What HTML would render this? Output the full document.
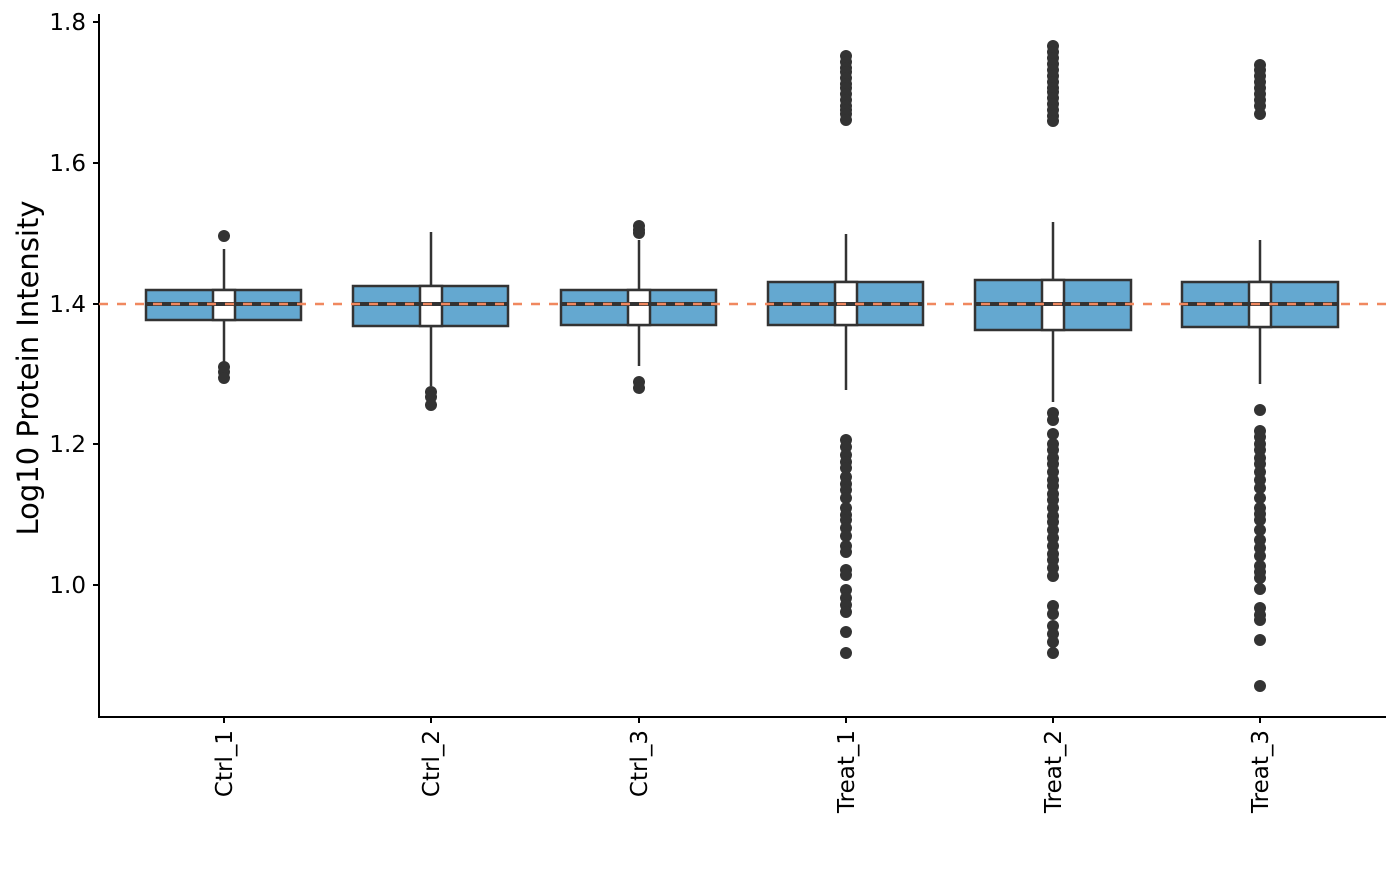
<!DOCTYPE html>
<html><head><meta charset="utf-8"><style>body{margin:0;background:#fff}</style></head><body>
<svg width="1400" height="865" xmlns="http://www.w3.org/2000/svg" font-family="DejaVu Sans, sans-serif">
<rect width="1400" height="865" fill="#fff"/>
<g stroke="#000" stroke-width="2">
<line x1="99" y1="14" x2="99" y2="718"/><line x1="98" y1="717" x2="1386" y2="717"/>
<line x1="93" y1="22" x2="99" y2="22"/><line x1="93" y1="163" x2="99" y2="163"/><line x1="93" y1="304" x2="99" y2="304"/><line x1="93" y1="444" x2="99" y2="444"/><line x1="93" y1="585" x2="99" y2="585"/>
<line x1="224" y1="717" x2="224" y2="723"/><line x1="431" y1="717" x2="431" y2="723"/><line x1="639" y1="717" x2="639" y2="723"/><line x1="846" y1="717" x2="846" y2="723"/><line x1="1053" y1="717" x2="1053" y2="723"/><line x1="1260" y1="717" x2="1260" y2="723"/>
</g>
<g font-size="23" text-anchor="end" fill="#000">
<text x="86" y="30">1.8</text><text x="86" y="171">1.6</text><text x="86" y="312">1.4</text><text x="86" y="452">1.2</text><text x="86" y="593">1.0</text>
</g>
<text transform="translate(38,368) rotate(-90)" font-size="29" text-anchor="middle">Log10 Protein Intensity</text>
<g font-size="23" text-anchor="end">
<text transform="translate(232,730) rotate(-90)">Ctrl_1</text>
<text transform="translate(439,730) rotate(-90)">Ctrl_2</text>
<text transform="translate(647,730) rotate(-90)">Ctrl_3</text>
<text transform="translate(854,730) rotate(-90)">Treat_1</text>
<text transform="translate(1061,730) rotate(-90)">Treat_2</text>
<text transform="translate(1268,730) rotate(-90)">Treat_3</text>
</g>
<g stroke="#333" stroke-width="2.5" fill="#333">
<line x1="224" y1="249" x2="224" y2="363"/>
<rect x="146" y="290" width="155" height="30" fill="#64a8d0"/>
<rect x="213" y="290" width="22" height="30" fill="#fff"/>
<line x1="146" y1="304" x2="301" y2="304" stroke-width="4"/>
<g stroke="none"><circle cx="224" cy="236" r="6"/><circle cx="224" cy="367" r="6"/><circle cx="224" cy="372" r="6"/><circle cx="224" cy="378" r="6"/></g>
<line x1="431" y1="232" x2="431" y2="386"/>
<rect x="353" y="286" width="155" height="40" fill="#64a8d0"/>
<rect x="420" y="286" width="22" height="40" fill="#fff"/>
<line x1="353" y1="304" x2="508" y2="304" stroke-width="4"/>
<g stroke="none"><circle cx="431" cy="392" r="6"/><circle cx="431" cy="397" r="6"/><circle cx="431" cy="405" r="6"/></g>
<line x1="639" y1="240" x2="639" y2="366"/>
<rect x="561" y="290" width="155" height="35" fill="#64a8d0"/>
<rect x="628" y="290" width="22" height="35" fill="#fff"/>
<line x1="561" y1="304" x2="716" y2="304" stroke-width="4"/>
<g stroke="none"><circle cx="639" cy="226" r="6"/><circle cx="639" cy="230" r="6"/><circle cx="639" cy="233" r="6"/><circle cx="639" cy="382" r="6"/><circle cx="639" cy="388" r="6"/></g>
<line x1="846" y1="234" x2="846" y2="390"/>
<rect x="768" y="282" width="155" height="43" fill="#64a8d0"/>
<rect x="835" y="282" width="22" height="43" fill="#fff"/>
<line x1="768" y1="304" x2="923" y2="304" stroke-width="4"/>
<line x1="1053" y1="222" x2="1053" y2="402"/>
<rect x="975" y="280" width="156" height="50" fill="#64a8d0"/>
<rect x="1042" y="280" width="22" height="50" fill="#fff"/>
<line x1="975" y1="304" x2="1131" y2="304" stroke-width="4"/>
<line x1="1260" y1="240" x2="1260" y2="384"/>
<rect x="1182" y="282" width="156" height="45" fill="#64a8d0"/>
<rect x="1249" y="282" width="22" height="45" fill="#fff"/>
<line x1="1182" y1="304" x2="1338" y2="304" stroke-width="4"/>
</g>
<g fill="#333" id="pts"></g>
<line x1="99" y1="304" x2="1386" y2="304" stroke="#f0885f" stroke-width="2.5" stroke-dasharray="9,9"/>
<script>
var g=document.getElementById('pts');
function col(x,ys){ys.forEach(function(y){var c=document.createElementNS('http://www.w3.org/2000/svg','circle');c.setAttribute('cx',x);c.setAttribute('cy',y);c.setAttribute('r',6);g.appendChild(c);});}
col(846,[56,62,68,72,78,84,88,94,100,106,110,114,120,440,447,455,462,468,477,484,490,498,508,515,520,528,536,546,552,570,575,590,598,605,612,632,653]);
col(1053,[46,52,58,64,70,76,82,88,92,98,104,110,116,121,413,420,434,444,450,458,464,472,480,486,494,500,508,516,522,530,538,546,554,560,568,576,606,614,626,634,642,653]);
col(1260,[65,70,76,82,88,94,100,106,114,410,431,437,444,450,458,464,472,480,488,498,508,514,520,530,540,548,556,566,572,578,589,608,615,620,640,686]);
</script>
</svg>
</body></html>
